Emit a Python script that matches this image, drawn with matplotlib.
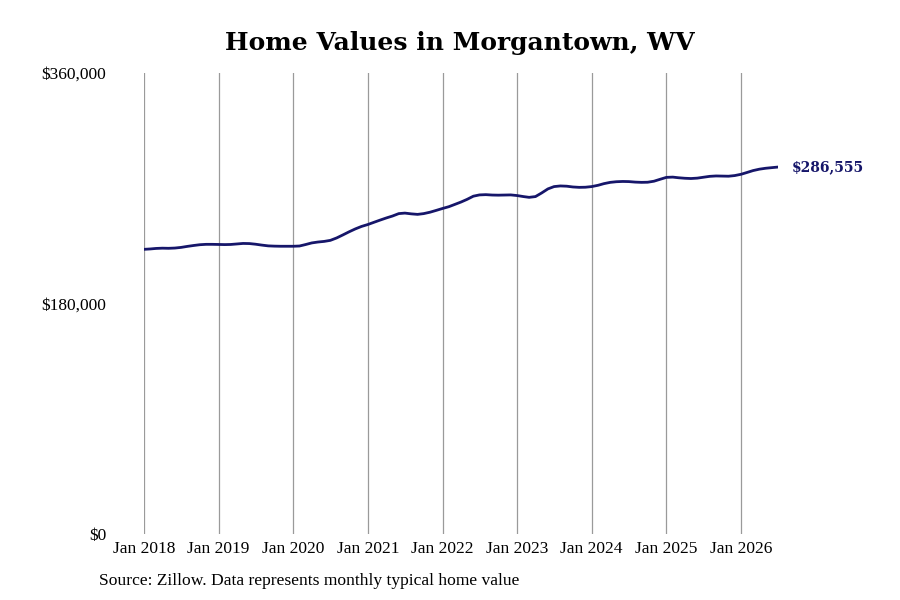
import numpy as np
import pandas as pd
import matplotlib
matplotlib.use("Agg")
import matplotlib.pyplot as plt
import matplotlib.dates as mdates
from matplotlib.ticker import FuncFormatter

# monthly typical home value, Jan 2018 .. Jul 2026
values_2018 = [222300, 222600, 223000, 223200, 223100, 223300, 223800, 224600, 225300, 225900, 226200, 226200]
values_2019 = [226100, 226000, 226100, 226500, 226900, 226800, 226300, 225600, 225000, 224800, 224700, 224700]
values_2020 = [224700, 224900, 226000, 227300, 228000, 228500, 229300, 231200, 233600, 236000, 238300, 240200]
values_2021 = [241700, 243500, 245100, 246800, 248300, 250200, 250600, 250000, 249600, 250200, 251300, 252700]
values_2022 = [254200, 255600, 257300, 259200, 261300, 263800, 264800, 265000, 264700, 264600, 264700, 264800]
values_2023 = [264300, 263500, 262900, 263500, 266300, 269500, 271300, 271800, 271600, 271000, 270700, 270800]
values_2024 = [271300, 272300, 273600, 274600, 275100, 275300, 275200, 274800, 274600, 274700, 275500, 277000]
values_2025 = [278500, 278700, 278200, 277800, 277600, 277900, 278600, 279300, 279600, 279500, 279400, 279900]
values_2026 = [280900, 282400, 283800, 284900, 285600, 286100, 286555]

values = (values_2018 + values_2019 + values_2020 + values_2021 + values_2022
          + values_2023 + values_2024 + values_2025 + values_2026)
dates = pd.date_range("2018-01-01", periods=len(values), freq="MS")

tick_years = list(range(2018, 2027))
tick_labels = ["Jan %d" % y for y in tick_years]
y_ticks = [0, 180000, 360000]

fig = plt.figure(figsize=(9, 6), dpi=100)
ax = fig.add_axes([144 / 900, 66 / 600, (778 - 144) / 900, 461 / 600])

ax.plot(dates, values, color="#16166a", linewidth=2.0, solid_capstyle="round")

ax.set_xlim(dates[0], dates[-1])
ax.set_ylim(0, 360000)

ax.set_xticks([pd.Timestamp("%d-01-01" % y) for y in tick_years])
ax.set_xticklabels(tick_labels, family="Liberation Serif", fontsize=12.5)
ax.set_yticks(y_ticks)
ax.yaxis.set_major_formatter(FuncFormatter(lambda v, p: "${:,.0f}".format(v)))
for lab in ax.get_yticklabels():
    lab.set_family("Liberation Serif")
    lab.set_fontsize(12.5)

ax.tick_params(axis="x", length=0, pad=5)
ax.tick_params(axis="y", length=0, pad=27)
ax.grid(axis="x", color="#9a9a9a", linewidth=0.9)
ax.set_axisbelow(True)
for s in ax.spines.values():
    s.set_visible(False)

ax.annotate("${:,.0f}".format(values[-1]), xy=(dates[-1], values[-1]),
            xytext=(10, 0), textcoords="offset points", va="center", ha="left",
            family="DejaVu Serif", fontweight="bold", fontsize=10, color="#16166a",
            annotation_clip=False)

fig.text(460 / 900, 1 - 43 / 600, "Home Values in Morgantown, WV", ha="center", va="center",
         family="DejaVu Serif", fontweight="bold", fontsize=18)
fig.text(99 / 900, 1 - 581 / 600, "Source: Zillow. Data represents monthly typical home value",
         ha="left", va="center", family="Liberation Serif", fontsize=12.6)

fig.savefig("out.png", dpi=100)
